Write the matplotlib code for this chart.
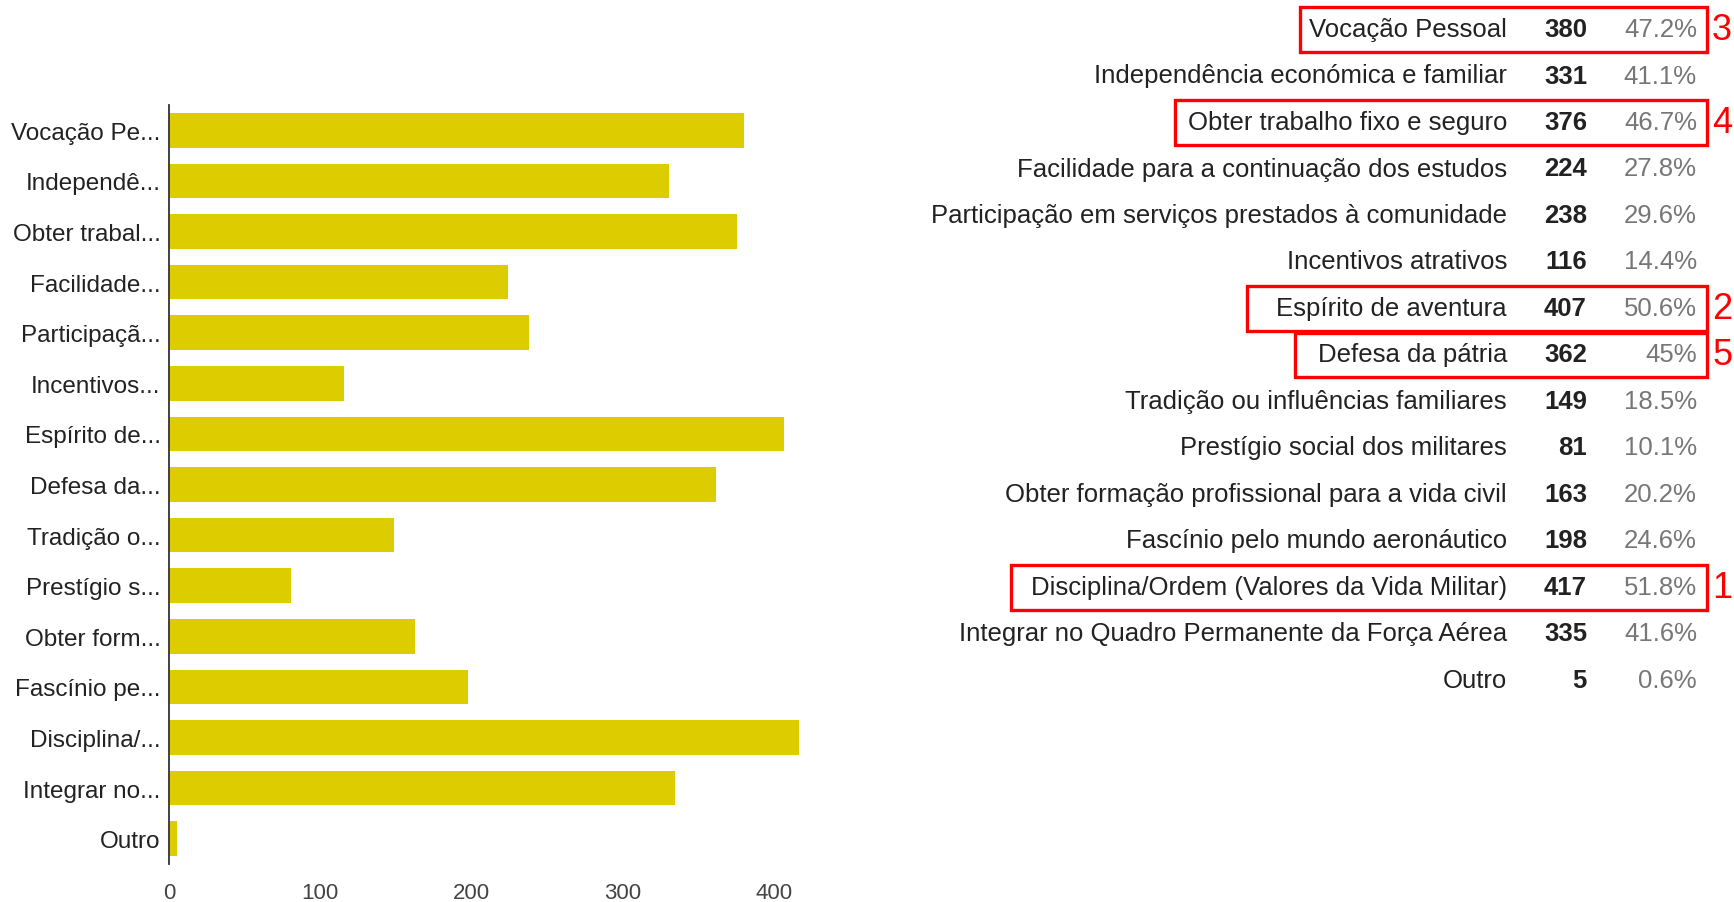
import matplotlib
matplotlib.use('Agg')
import matplotlib.pyplot as plt
from matplotlib.patches import Rectangle

# data
short_labels = ['Vocação Pe...', 'Independê...', 'Obter trabal...', 'Facilidade...',
                'Participaçã...', 'Incentivos...', 'Espírito de...', 'Defesa da...',
                'Tradição o...', 'Prestígio s...', 'Obter form...', 'Fascínio pe...',
                'Disciplina/...', 'Integrar no...', 'Outro']
full_labels = ['Vocação Pessoal',
               'Independência económica e familiar',
               'Obter trabalho fixo e seguro',
               'Facilidade para a continuação dos estudos',
               'Participação em serviços prestados à comunidade',
               'Incentivos atrativos',
               'Espírito de aventura',
               'Defesa da pátria',
               'Tradição ou influências familiares',
               'Prestígio social dos militares',
               'Obter formação profissional para a vida civil',
               'Fascínio pelo mundo aeronáutico',
               'Disciplina/Ordem (Valores da Vida Militar)',
               'Integrar no Quadro Permanente da Força Aérea',
               'Outro']
counts = [380, 331, 376, 224, 238, 116, 407, 362, 149, 81, 163, 198, 417, 335, 5]
percents = ['47.2%', '41.1%', '46.7%', '27.8%', '29.6%', '14.4%', '50.6%', '45%',
            '18.5%', '10.1%', '20.2%', '24.6%', '51.8%', '41.6%', '0.6%']
# rank of the highlighted answers (row index -> rank)
ranks = {12: 1, 6: 2, 0: 3, 2: 4, 7: 5}
xticks = [0, 100, 200, 300, 400]

BAR = '#dccc00'
TXT = '#222222'
GREY = '#777777'
RED = '#ff0000'

plt.rcParams['font.family'] = ['Liberation Sans', 'DejaVu Sans']

W, H = 1734, 903
fig = plt.figure(figsize=(W / 100, H / 100), dpi=100)

# bar chart
ax = fig.add_axes([169 / W, 1 - 865 / H, (804 - 169) / W, (865 - 106) / H])
ypos = list(range(len(counts)))
ax.barh(ypos, counts, height=0.68, color=BAR)
ax.set_xlim(0, 420)
ax.set_ylim(len(counts) - 0.5, -0.5)
ax.set_yticks(ypos)
ax.set_yticklabels(short_labels, fontsize=17.5, color=TXT)
ax.set_xticks(xticks)
ax.set_xticklabels([str(t) for t in xticks], fontsize=16, color='#444444')
ax.tick_params(length=0, pad=6)
ax.tick_params(axis='x', pad=13)
for s in ['top', 'right', 'bottom']:
    ax.spines[s].set_visible(False)
ax.spines['left'].set_color('#333333')
ax.spines['left'].set_linewidth(1.3)

# table on the right, drawn in pixel coordinates
tax = fig.add_axes([0, 0, 1, 1])
tax.set_xlim(0, W)
tax.set_ylim(H, 0)
tax.axis('off')

row0, step = 30, 46.5
label_right, count_right, pct_right = 1507, 1587, 1697
box_right = 1707
box_pad = {1: 20, 2: 30, 3: 9, 4: 13, 5: 23}

fig.canvas.draw()
renderer = fig.canvas.get_renderer()
inv = tax.transData.inverted()

for i, (lab, c, p) in enumerate(zip(full_labels, counts, percents)):
    y = row0 + i * step
    t = tax.text(label_right, y, lab, ha='right', va='center', fontsize=18.5, color=TXT)
    tax.text(count_right, y, str(c), ha='right', va='center', fontsize=18.5,
             color=TXT, fontweight='bold')
    tax.text(pct_right, y, p, ha='right', va='center', fontsize=18.5, color=GREY)
    if i in ranks:
        r = ranks[i]
        bb = t.get_window_extent(renderer)
        x0 = inv.transform((bb.x0, 0))[0] - box_pad[r]
        yc = y + 0.5
        tax.add_patch(Rectangle((x0, yc - step / 2 + 1), box_right - x0, step - 2,
                                fill=False, edgecolor=RED, linewidth=2.4))
        tax.text(box_right + 5, yc, str(r), ha='left', va='center',
                 fontsize=26, color=RED)

fig.savefig('out.png', dpi=100)
